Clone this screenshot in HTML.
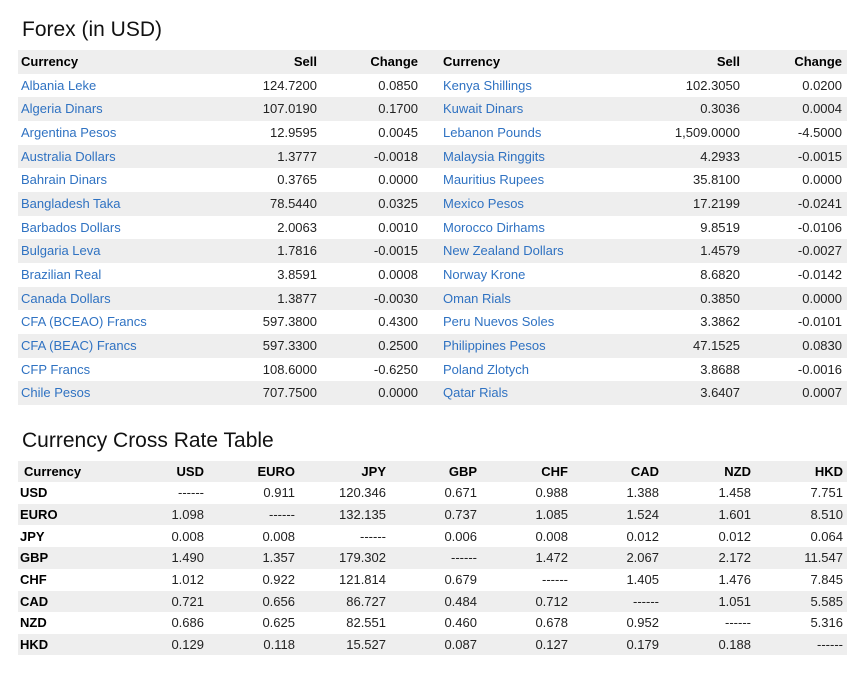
<!DOCTYPE html>
<html><head><meta charset="utf-8">
<style>
html,body{margin:0;padding:0;background:#fff;}
body{width:866px;height:676px;position:relative;overflow:hidden;font-family:"Liberation Sans",Arial,sans-serif;color:#222;}
.t{position:absolute;font-size:21px;line-height:24px;color:#111;white-space:nowrap;left:22px;}
.r{position:absolute;left:18px;width:829px;font-size:13px;white-space:nowrap;}
.f{height:23.667px;line-height:23.667px;}
.x{height:21.667px;line-height:21.667px;}
.g{background:#eeeeee;}
.r span{position:absolute;top:0;}
.h span{font-weight:bold;color:#000;}
a{color:#2f72c2;text-decoration:none;}
.c1{left:3px}.c2{right:530px}.c3{right:429px}.c4{left:425px}.c5{right:107px}.c6{right:5px}
.l{left:2px;font-weight:bold;color:#000;}
.hl{left:6px}
.k1{right:643px}.k2{right:552px}.k3{right:461px}.k4{right:370px}.k5{right:279px}.k6{right:188px}.k7{right:96px}.k8{right:4px}
</style></head><body>
<div class="t" style="top:18px">Forex (in USD)</div>

<div class="r f g h" style="top:50px"><span class="c1">Currency</span><span class="c2">Sell</span><span class="c3">Change</span><span class="c4">Currency</span><span class="c5">Sell</span><span class="c6">Change</span></div>
<div class="r f" style="top:73.667px"><span class="c1"><a>Albania Leke</a></span><span class="c2">124.7200</span><span class="c3">0.0850</span><span class="c4"><a>Kenya Shillings</a></span><span class="c5">102.3050</span><span class="c6">0.0200</span></div>
<div class="r f g" style="top:97.333px"><span class="c1"><a>Algeria Dinars</a></span><span class="c2">107.0190</span><span class="c3">0.1700</span><span class="c4"><a>Kuwait Dinars</a></span><span class="c5">0.3036</span><span class="c6">0.0004</span></div>
<div class="r f" style="top:121px"><span class="c1"><a>Argentina Pesos</a></span><span class="c2">12.9595</span><span class="c3">0.0045</span><span class="c4"><a>Lebanon Pounds</a></span><span class="c5">1,509.0000</span><span class="c6">-4.5000</span></div>
<div class="r f g" style="top:144.667px"><span class="c1"><a>Australia Dollars</a></span><span class="c2">1.3777</span><span class="c3">-0.0018</span><span class="c4"><a>Malaysia Ringgits</a></span><span class="c5">4.2933</span><span class="c6">-0.0015</span></div>
<div class="r f" style="top:168.333px"><span class="c1"><a>Bahrain Dinars</a></span><span class="c2">0.3765</span><span class="c3">0.0000</span><span class="c4"><a>Mauritius Rupees</a></span><span class="c5">35.8100</span><span class="c6">0.0000</span></div>
<div class="r f g" style="top:192px"><span class="c1"><a>Bangladesh Taka</a></span><span class="c2">78.5440</span><span class="c3">0.0325</span><span class="c4"><a>Mexico Pesos</a></span><span class="c5">17.2199</span><span class="c6">-0.0241</span></div>
<div class="r f" style="top:215.667px"><span class="c1"><a>Barbados Dollars</a></span><span class="c2">2.0063</span><span class="c3">0.0010</span><span class="c4"><a>Morocco Dirhams</a></span><span class="c5">9.8519</span><span class="c6">-0.0106</span></div>
<div class="r f g" style="top:239.333px"><span class="c1"><a>Bulgaria Leva</a></span><span class="c2">1.7816</span><span class="c3">-0.0015</span><span class="c4"><a>New Zealand Dollars</a></span><span class="c5">1.4579</span><span class="c6">-0.0027</span></div>
<div class="r f" style="top:263px"><span class="c1"><a>Brazilian Real</a></span><span class="c2">3.8591</span><span class="c3">0.0008</span><span class="c4"><a>Norway Krone</a></span><span class="c5">8.6820</span><span class="c6">-0.0142</span></div>
<div class="r f g" style="top:286.667px"><span class="c1"><a>Canada Dollars</a></span><span class="c2">1.3877</span><span class="c3">-0.0030</span><span class="c4"><a>Oman Rials</a></span><span class="c5">0.3850</span><span class="c6">0.0000</span></div>
<div class="r f" style="top:310.333px"><span class="c1"><a>CFA (BCEAO) Francs</a></span><span class="c2">597.3800</span><span class="c3">0.4300</span><span class="c4"><a>Peru Nuevos Soles</a></span><span class="c5">3.3862</span><span class="c6">-0.0101</span></div>
<div class="r f g" style="top:334px"><span class="c1"><a>CFA (BEAC) Francs</a></span><span class="c2">597.3300</span><span class="c3">0.2500</span><span class="c4"><a>Philippines Pesos</a></span><span class="c5">47.1525</span><span class="c6">0.0830</span></div>
<div class="r f" style="top:357.667px"><span class="c1"><a>CFP Francs</a></span><span class="c2">108.6000</span><span class="c3">-0.6250</span><span class="c4"><a>Poland Zlotych</a></span><span class="c5">3.8688</span><span class="c6">-0.0016</span></div>
<div class="r f g" style="top:381.333px"><span class="c1"><a>Chile Pesos</a></span><span class="c2">707.7500</span><span class="c3">0.0000</span><span class="c4"><a>Qatar Rials</a></span><span class="c5">3.6407</span><span class="c6">0.0007</span></div>

<div class="t" style="top:429px">Currency Cross Rate Table</div>

<div class="r x g h" style="top:460.5px"><span class="hl">Currency</span><span class="k1">USD</span><span class="k2">EURO</span><span class="k3">JPY</span><span class="k4">GBP</span><span class="k5">CHF</span><span class="k6">CAD</span><span class="k7">NZD</span><span class="k8">HKD</span></div>
<div class="r x" style="top:482.167px"><span class="l">USD</span><span class="k1">------</span><span class="k2">0.911</span><span class="k3">120.346</span><span class="k4">0.671</span><span class="k5">0.988</span><span class="k6">1.388</span><span class="k7">1.458</span><span class="k8">7.751</span></div>
<div class="r x g" style="top:503.833px"><span class="l">EURO</span><span class="k1">1.098</span><span class="k2">------</span><span class="k3">132.135</span><span class="k4">0.737</span><span class="k5">1.085</span><span class="k6">1.524</span><span class="k7">1.601</span><span class="k8">8.510</span></div>
<div class="r x" style="top:525.5px"><span class="l">JPY</span><span class="k1">0.008</span><span class="k2">0.008</span><span class="k3">------</span><span class="k4">0.006</span><span class="k5">0.008</span><span class="k6">0.012</span><span class="k7">0.012</span><span class="k8">0.064</span></div>
<div class="r x g" style="top:547.167px"><span class="l">GBP</span><span class="k1">1.490</span><span class="k2">1.357</span><span class="k3">179.302</span><span class="k4">------</span><span class="k5">1.472</span><span class="k6">2.067</span><span class="k7">2.172</span><span class="k8">11.547</span></div>
<div class="r x" style="top:568.833px"><span class="l">CHF</span><span class="k1">1.012</span><span class="k2">0.922</span><span class="k3">121.814</span><span class="k4">0.679</span><span class="k5">------</span><span class="k6">1.405</span><span class="k7">1.476</span><span class="k8">7.845</span></div>
<div class="r x g" style="top:590.5px"><span class="l">CAD</span><span class="k1">0.721</span><span class="k2">0.656</span><span class="k3">86.727</span><span class="k4">0.484</span><span class="k5">0.712</span><span class="k6">------</span><span class="k7">1.051</span><span class="k8">5.585</span></div>
<div class="r x" style="top:612.167px"><span class="l">NZD</span><span class="k1">0.686</span><span class="k2">0.625</span><span class="k3">82.551</span><span class="k4">0.460</span><span class="k5">0.678</span><span class="k6">0.952</span><span class="k7">------</span><span class="k8">5.316</span></div>
<div class="r x g" style="top:633.833px"><span class="l">HKD</span><span class="k1">0.129</span><span class="k2">0.118</span><span class="k3">15.527</span><span class="k4">0.087</span><span class="k5">0.127</span><span class="k6">0.179</span><span class="k7">0.188</span><span class="k8">------</span></div>
</body></html>
